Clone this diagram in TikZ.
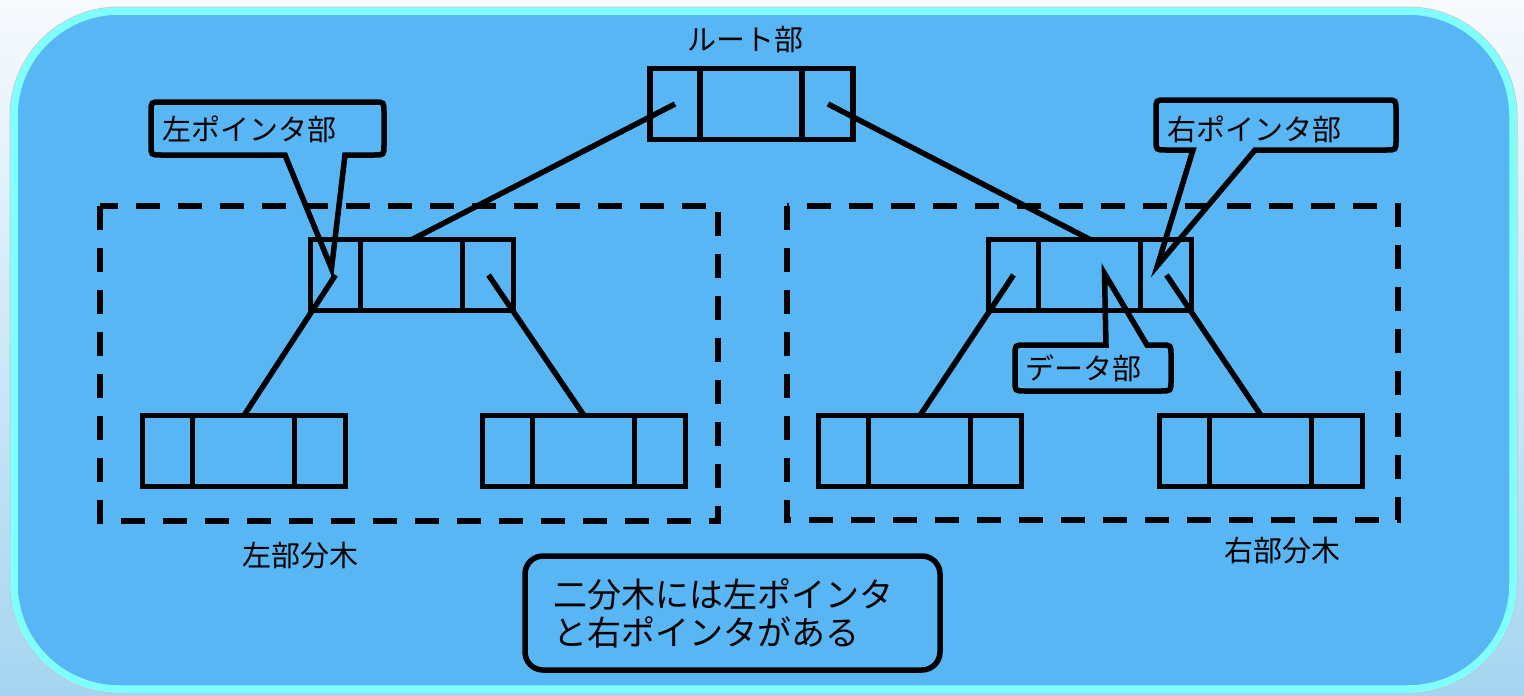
\documentclass[tikz,border=0pt]{standalone}
\usepackage{fontspec}
\newfontfamily\jp{Noto Sans CJK JP}
\usetikzlibrary{calc}
\definecolor{panel}{HTML}{59B6F4}
\definecolor{rim}{HTML}{80FFFF}
\definecolor{pagetop}{HTML}{F7FAFD}
\definecolor{pagebot}{HTML}{A5D5F1}
\begin{document}
\begin{tikzpicture}[x=1pt,y=-1pt,
  rec/.style={draw, line width=5.5pt, minimum width=203pt, minimum height=71pt, inner sep=0pt, outer sep=0pt},
  divider/.style={line width=5.5pt},
  link/.style={line width=5.5pt},
  subtree/.style={line width=5.5pt, dash pattern=on 24pt off 18pt},
  callout/.style={line width=5.5pt, line join=miter},
  lbl/.style={inner sep=0pt, font=\jp\fontsize{29}{34}\selectfont},
  notebox/.style={draw, line width=5.5pt, rounded corners=18pt, minimum width=415pt, minimum height=114pt,
    text width=359pt, inner xsep=28pt, inner ysep=0pt, align=left, font=\jp\fontsize{34}{38}\selectfont}]
\useasboundingbox (0,0) rectangle (1524,696);
% page background
\fill[top color=pagetop, bottom color=pagebot] (0,0) rectangle (1524,696);
% panel
\draw[gray!45, line width=9pt, rounded corners=105pt] (14,11) rectangle (1513,689);
\draw[fill=panel, draw=rim, line width=7.5pt, rounded corners=105pt] (14,11) rectangle (1513,689);
% subtree frames
\draw[subtree] (100,206) rectangle (718,521);
\draw[subtree] (787,206) rectangle (1398,520);
% records
\node[rec] (root) at (751.5,104) {};
\node[rec] (lm) at (412,275) {};
\node[rec] (rm) at (1090,275) {};
\node[rec] (ll) at (244,451) {};
\node[rec] (lr) at (584,451) {};
\node[rec] (rl) at (920,451) {};
\node[rec] (rr) at (1261,451) {};
\foreach \n in {root,lm,rm,ll,lr,rl,rr}{
  \draw[divider] ([xshift=50pt]\n.north west) -- ([xshift=50pt]\n.south west);
  \draw[divider] ([xshift=-51pt]\n.north east) -- ([xshift=-51pt]\n.south east);
}
% links
\draw[link] ($(root.west)+(25,0)$) -- (lm.north);
\draw[link] ($(root.east)+(-25,0)$) -- (rm.north);
\draw[link] ($(lm.west)+(25,0)$) -- (ll.north);
\draw[link] ($(lm.east)+(-25,0)$) -- (lr.north);
\draw[link] ($(rm.west)+(25,0)$) -- (rl.north);
\draw[link] ($(rm.east)+(-25,0)$) -- (rr.north);
% labels
\node[lbl] (rootlbl) at (745,40) {ルート部};
\node[lbl] (lsub) at (300,556) {左部分木};
\node[lbl] (rsub) at (1282,551) {右部分木};
\node[lbl, anchor=west] (lptr) at (162,129) {左ポインタ部};
\node[lbl, anchor=west] (rptr) at (1167,129) {右ポインタ部};
\node[lbl, anchor=west] (dlbl) at (1025,368) {データ部};
% callout tips
\coordinate (ltip) at ($(lm.north west)+(21,29)$);
\coordinate (rtip) at ($(rm.north east)+(-34,26)$);
\coordinate (dtip) at ($(rm.north west)+(116,34)$);
% callouts (corners r=10)
\draw[callout] (ltip) -- (345,155) -- (374,155) .. controls (384,155) .. (384,145)
  -- (384,112) .. controls (384,102) .. (374,102) -- (161,102) .. controls (151,102) .. (151,112)
  -- (151,145) .. controls (151,155) .. (161,155) -- (285,155) -- cycle;
\draw[callout] (rtip) -- (1255,150) -- (1386,150) .. controls (1396,150) .. (1396,140)
  -- (1396,110) .. controls (1396,100) .. (1386,100) -- (1166,100) .. controls (1156,100) .. (1156,110)
  -- (1156,140) .. controls (1156,150) .. (1166,150) -- (1193,150) -- cycle;
\draw[callout] (dtip) -- (1147,345) -- (1161,345) .. controls (1171,345) .. (1171,355)
  -- (1171,381) .. controls (1171,391) .. (1161,391) -- (1025,391) .. controls (1015,391) .. (1015,381)
  -- (1015,355) .. controls (1015,345) .. (1025,345) -- (1106,345) -- cycle;
% note
\node[notebox] (note) at (732.5,613) {二分木には左ポインタ\\と右ポインタがある};
\end{tikzpicture}
\end{document}
